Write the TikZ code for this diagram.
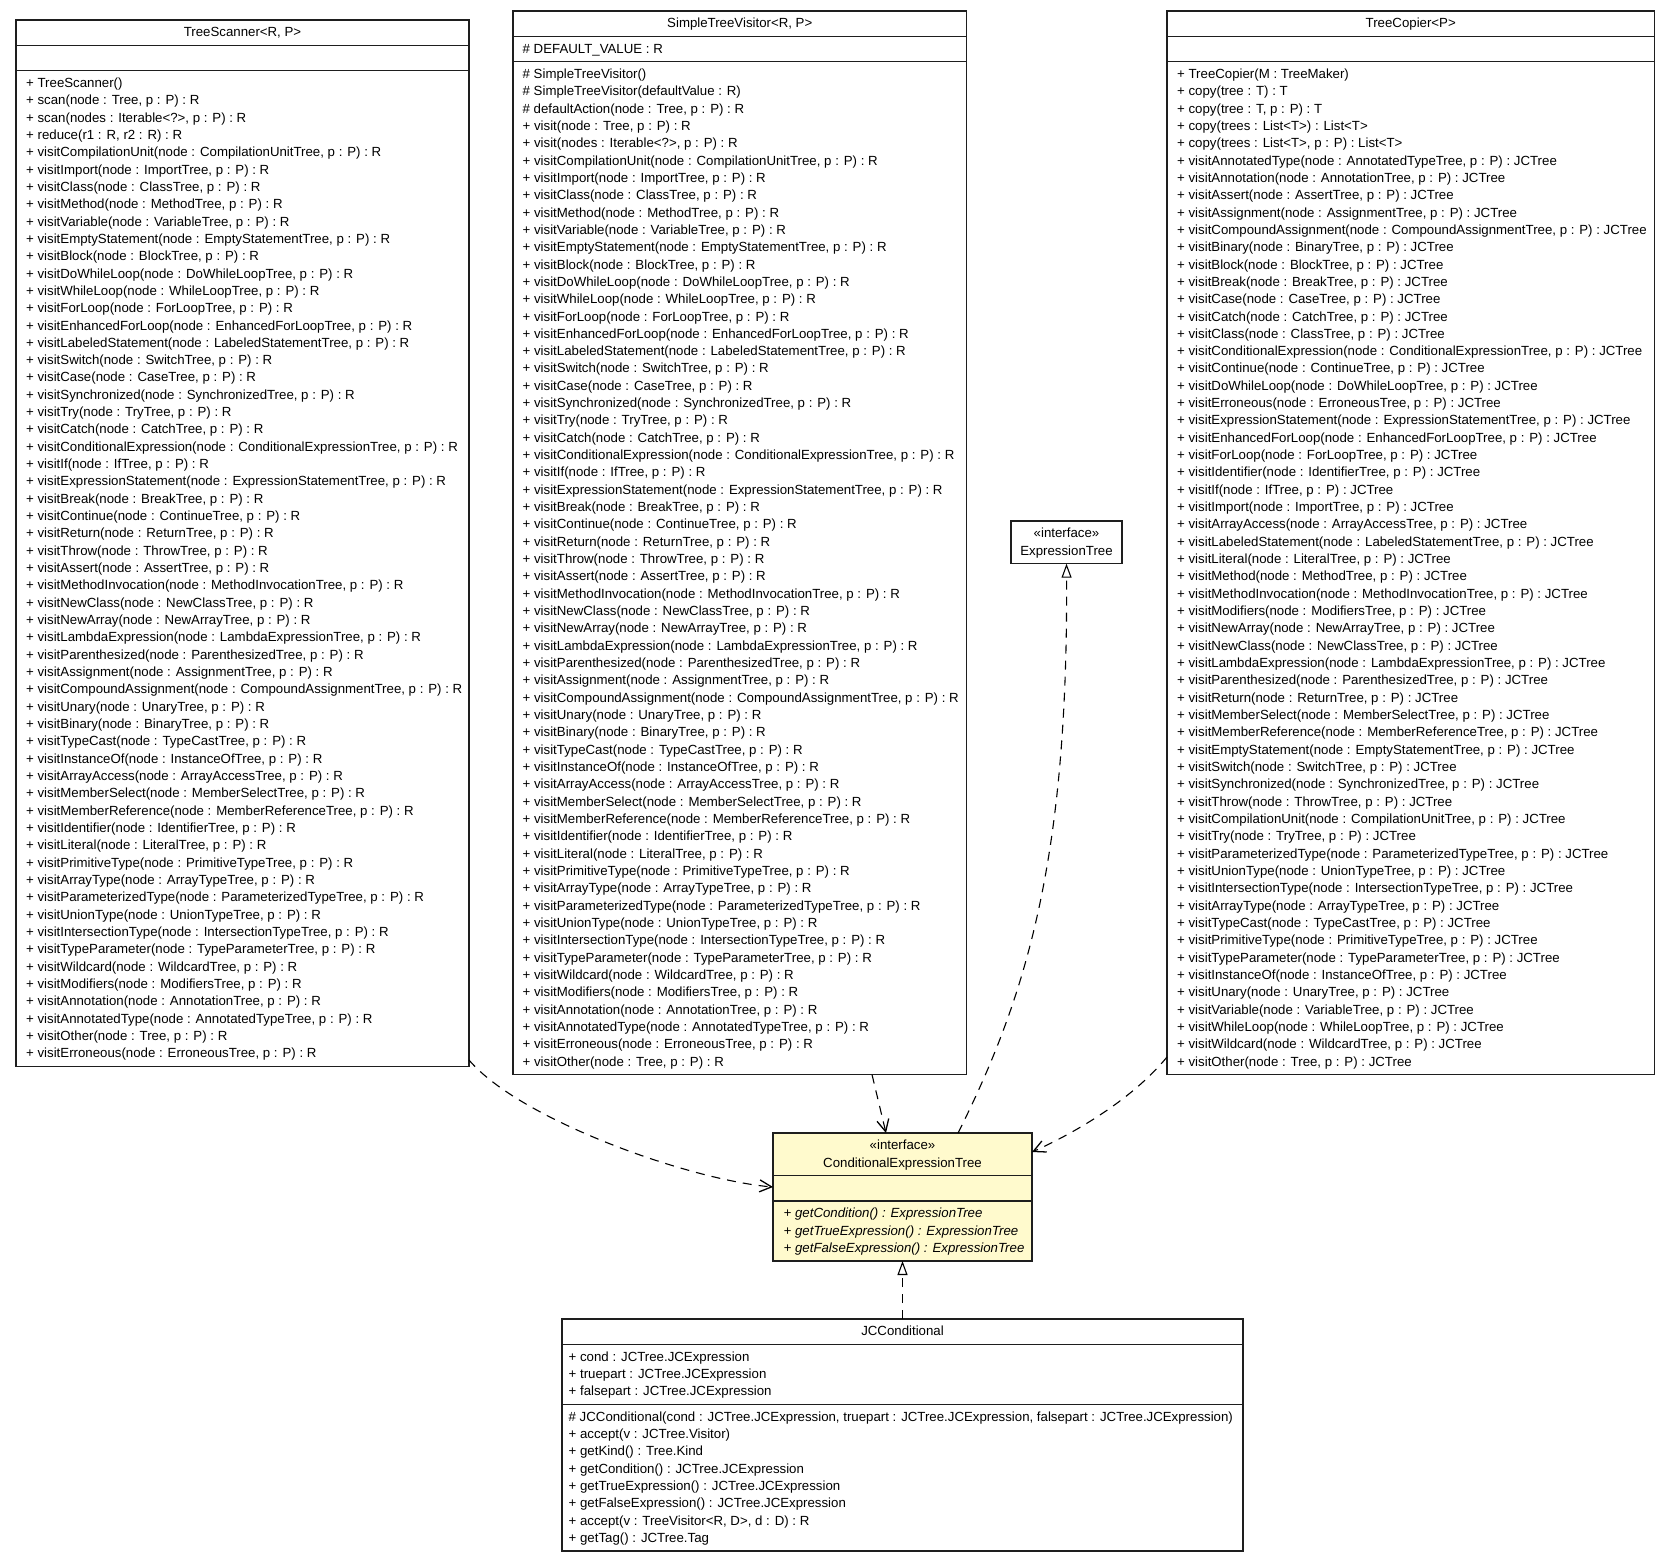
\documentclass[tikz,border=0pt]{standalone}
\usepackage{fontspec}
\usetikzlibrary{arrows.meta,calc}
\newfontfamily\umlsans{Liberation Sans}
\newcommand{\umlfont}{\umlsans\fontsize{13.25pt}{17.33pt}\selectfont\lineskip=0pt\lineskiplimit=-20pt\relax}
\newcommand{\umlitfont}{\umlfont\itshape}
\newcommand{\rw}{\rule[-4.83pt]{0pt}{17.33pt}}
\definecolor{lemon}{RGB}{255,250,205}
\definecolor{edgecol}{RGB}{30,30,30}
\tikzset{
  classbox/.style={draw=edgecol, line width=1.3pt, fill=white, inner sep=0pt, outer sep=0pt, anchor=north west},
  sepline/.style={draw=edgecol, line width=1.3pt},
  titletext/.style={inner sep=0pt, anchor=north, align=center, font=\umlfont},
  membertext/.style={inner sep=0pt, anchor=north west, align=left, font=\umlfont},
  italictext/.style={inner sep=0pt, anchor=north west, align=left, font=\umlitfont},
  deparrow/.style={draw=black, line width=1.1pt, dash pattern=on 9pt off 7pt, -{Straight Barb[length=12pt,width=12pt,line width=1.3pt]}},
  realarrow/.style={draw=black, line width=1.1pt, dash pattern=on 9pt off 7pt, -{Triangle[open,length=14pt,width=10pt,line width=1.1pt]}},
}
\begin{document}
\begin{tikzpicture}[x=1pt,y=-1pt]
\fill[white] (0,0) rectangle (1667,1563);
\useasboundingbox (0,0) rectangle (1667,1563);

% ---------------- TreeScanner
\node[classbox, minimum width=453pt, minimum height=1046.5pt] (ts) at (16,20) {};
\draw[sepline] ($(ts.north west)+(0,25.33)$) -- ($(ts.north east)+(0,25.33)$);
\draw[sepline] ($(ts.north west)+(0,50.67)$) -- ($(ts.north east)+(0,50.67)$);
\node[titletext] (tst) at ($(ts.north)+(0,4)$) {\rw TreeScanner<R, P>};
\node[membertext] (tsm) at ($(ts.north west)+(10,54.67)$) {%
\rw + TreeScanner()\\
\rw + scan(node : Tree, p : P) : R\\
\rw + scan(nodes : Iterable<?>, p : P) : R\\
\rw + reduce(r1 : R, r2 : R) : R\\
\rw + visitCompilationUnit(node : CompilationUnitTree, p : P) : R\\
\rw + visitImport(node : ImportTree, p : P) : R\\
\rw + visitClass(node : ClassTree, p : P) : R\\
\rw + visitMethod(node : MethodTree, p : P) : R\\
\rw + visitVariable(node : VariableTree, p : P) : R\\
\rw + visitEmptyStatement(node : EmptyStatementTree, p : P) : R\\
\rw + visitBlock(node : BlockTree, p : P) : R\\
\rw + visitDoWhileLoop(node : DoWhileLoopTree, p : P) : R\\
\rw + visitWhileLoop(node : WhileLoopTree, p : P) : R\\
\rw + visitForLoop(node : ForLoopTree, p : P) : R\\
\rw + visitEnhancedForLoop(node : EnhancedForLoopTree, p : P) : R\\
\rw + visitLabeledStatement(node : LabeledStatementTree, p : P) : R\\
\rw + visitSwitch(node : SwitchTree, p : P) : R\\
\rw + visitCase(node : CaseTree, p : P) : R\\
\rw + visitSynchronized(node : SynchronizedTree, p : P) : R\\
\rw + visitTry(node : TryTree, p : P) : R\\
\rw + visitCatch(node : CatchTree, p : P) : R\\
\rw + visitConditionalExpression(node : ConditionalExpressionTree, p : P) : R\\
\rw + visitIf(node : IfTree, p : P) : R\\
\rw + visitExpressionStatement(node : ExpressionStatementTree, p : P) : R\\
\rw + visitBreak(node : BreakTree, p : P) : R\\
\rw + visitContinue(node : ContinueTree, p : P) : R\\
\rw + visitReturn(node : ReturnTree, p : P) : R\\
\rw + visitThrow(node : ThrowTree, p : P) : R\\
\rw + visitAssert(node : AssertTree, p : P) : R\\
\rw + visitMethodInvocation(node : MethodInvocationTree, p : P) : R\\
\rw + visitNewClass(node : NewClassTree, p : P) : R\\
\rw + visitNewArray(node : NewArrayTree, p : P) : R\\
\rw + visitLambdaExpression(node : LambdaExpressionTree, p : P) : R\\
\rw + visitParenthesized(node : ParenthesizedTree, p : P) : R\\
\rw + visitAssignment(node : AssignmentTree, p : P) : R\\
\rw + visitCompoundAssignment(node : CompoundAssignmentTree, p : P) : R\\
\rw + visitUnary(node : UnaryTree, p : P) : R\\
\rw + visitBinary(node : BinaryTree, p : P) : R\\
\rw + visitTypeCast(node : TypeCastTree, p : P) : R\\
\rw + visitInstanceOf(node : InstanceOfTree, p : P) : R\\
\rw + visitArrayAccess(node : ArrayAccessTree, p : P) : R\\
\rw + visitMemberSelect(node : MemberSelectTree, p : P) : R\\
\rw + visitMemberReference(node : MemberReferenceTree, p : P) : R\\
\rw + visitIdentifier(node : IdentifierTree, p : P) : R\\
\rw + visitLiteral(node : LiteralTree, p : P) : R\\
\rw + visitPrimitiveType(node : PrimitiveTypeTree, p : P) : R\\
\rw + visitArrayType(node : ArrayTypeTree, p : P) : R\\
\rw + visitParameterizedType(node : ParameterizedTypeTree, p : P) : R\\
\rw + visitUnionType(node : UnionTypeTree, p : P) : R\\
\rw + visitIntersectionType(node : IntersectionTypeTree, p : P) : R\\
\rw + visitTypeParameter(node : TypeParameterTree, p : P) : R\\
\rw + visitWildcard(node : WildcardTree, p : P) : R\\
\rw + visitModifiers(node : ModifiersTree, p : P) : R\\
\rw + visitAnnotation(node : AnnotationTree, p : P) : R\\
\rw + visitAnnotatedType(node : AnnotatedTypeTree, p : P) : R\\
\rw + visitOther(node : Tree, p : P) : R\\
\rw + visitErroneous(node : ErroneousTree, p : P) : R};

% ---------------- SimpleTreeVisitor
\node[classbox, minimum width=453.5pt, minimum height=1063.8pt] (stv) at (513,11) {};
\draw[sepline] ($(stv.north west)+(0,25.33)$) -- ($(stv.north east)+(0,25.33)$);
\draw[sepline] ($(stv.north west)+(0,50.67)$) -- ($(stv.north east)+(0,50.67)$);
\node[titletext] (stvt) at ($(stv.north)+(0,4)$) {\rw SimpleTreeVisitor<R, P>};
\node[membertext] (stva) at ($(stv.north west)+(9.5,29.33)$) {\rw \# DEFAULT\_VALUE : R};
\node[membertext] (stvm) at ($(stv.north west)+(9.5,54.67)$) {%
\rw \# SimpleTreeVisitor()\\
\rw \# SimpleTreeVisitor(defaultValue : R)\\
\rw \# defaultAction(node : Tree, p : P) : R\\
\rw + visit(node : Tree, p : P) : R\\
\rw + visit(nodes : Iterable<?>, p : P) : R\\
\rw + visitCompilationUnit(node : CompilationUnitTree, p : P) : R\\
\rw + visitImport(node : ImportTree, p : P) : R\\
\rw + visitClass(node : ClassTree, p : P) : R\\
\rw + visitMethod(node : MethodTree, p : P) : R\\
\rw + visitVariable(node : VariableTree, p : P) : R\\
\rw + visitEmptyStatement(node : EmptyStatementTree, p : P) : R\\
\rw + visitBlock(node : BlockTree, p : P) : R\\
\rw + visitDoWhileLoop(node : DoWhileLoopTree, p : P) : R\\
\rw + visitWhileLoop(node : WhileLoopTree, p : P) : R\\
\rw + visitForLoop(node : ForLoopTree, p : P) : R\\
\rw + visitEnhancedForLoop(node : EnhancedForLoopTree, p : P) : R\\
\rw + visitLabeledStatement(node : LabeledStatementTree, p : P) : R\\
\rw + visitSwitch(node : SwitchTree, p : P) : R\\
\rw + visitCase(node : CaseTree, p : P) : R\\
\rw + visitSynchronized(node : SynchronizedTree, p : P) : R\\
\rw + visitTry(node : TryTree, p : P) : R\\
\rw + visitCatch(node : CatchTree, p : P) : R\\
\rw + visitConditionalExpression(node : ConditionalExpressionTree, p : P) : R\\
\rw + visitIf(node : IfTree, p : P) : R\\
\rw + visitExpressionStatement(node : ExpressionStatementTree, p : P) : R\\
\rw + visitBreak(node : BreakTree, p : P) : R\\
\rw + visitContinue(node : ContinueTree, p : P) : R\\
\rw + visitReturn(node : ReturnTree, p : P) : R\\
\rw + visitThrow(node : ThrowTree, p : P) : R\\
\rw + visitAssert(node : AssertTree, p : P) : R\\
\rw + visitMethodInvocation(node : MethodInvocationTree, p : P) : R\\
\rw + visitNewClass(node : NewClassTree, p : P) : R\\
\rw + visitNewArray(node : NewArrayTree, p : P) : R\\
\rw + visitLambdaExpression(node : LambdaExpressionTree, p : P) : R\\
\rw + visitParenthesized(node : ParenthesizedTree, p : P) : R\\
\rw + visitAssignment(node : AssignmentTree, p : P) : R\\
\rw + visitCompoundAssignment(node : CompoundAssignmentTree, p : P) : R\\
\rw + visitUnary(node : UnaryTree, p : P) : R\\
\rw + visitBinary(node : BinaryTree, p : P) : R\\
\rw + visitTypeCast(node : TypeCastTree, p : P) : R\\
\rw + visitInstanceOf(node : InstanceOfTree, p : P) : R\\
\rw + visitArrayAccess(node : ArrayAccessTree, p : P) : R\\
\rw + visitMemberSelect(node : MemberSelectTree, p : P) : R\\
\rw + visitMemberReference(node : MemberReferenceTree, p : P) : R\\
\rw + visitIdentifier(node : IdentifierTree, p : P) : R\\
\rw + visitLiteral(node : LiteralTree, p : P) : R\\
\rw + visitPrimitiveType(node : PrimitiveTypeTree, p : P) : R\\
\rw + visitArrayType(node : ArrayTypeTree, p : P) : R\\
\rw + visitParameterizedType(node : ParameterizedTypeTree, p : P) : R\\
\rw + visitUnionType(node : UnionTypeTree, p : P) : R\\
\rw + visitIntersectionType(node : IntersectionTypeTree, p : P) : R\\
\rw + visitTypeParameter(node : TypeParameterTree, p : P) : R\\
\rw + visitWildcard(node : WildcardTree, p : P) : R\\
\rw + visitModifiers(node : ModifiersTree, p : P) : R\\
\rw + visitAnnotation(node : AnnotationTree, p : P) : R\\
\rw + visitAnnotatedType(node : AnnotatedTypeTree, p : P) : R\\
\rw + visitErroneous(node : ErroneousTree, p : P) : R\\
\rw + visitOther(node : Tree, p : P) : R};

% ---------------- TreeCopier
\node[classbox, minimum width=487.5pt, minimum height=1063.8pt] (tc) at (1167,11) {};
\draw[sepline] ($(tc.north west)+(0,25.33)$) -- ($(tc.north east)+(0,25.33)$);
\draw[sepline] ($(tc.north west)+(0,50.67)$) -- ($(tc.north east)+(0,50.67)$);
\node[titletext] (tct) at ($(tc.north)+(0,4)$) {\rw TreeCopier<P>};
\node[membertext] (tcm) at ($(tc.north west)+(10,54.67)$) {%
\rw + TreeCopier(M : TreeMaker)\\
\rw + copy(tree : T) : T\\
\rw + copy(tree : T, p : P) : T\\
\rw + copy(trees : List<T>) : List<T>\\
\rw + copy(trees : List<T>, p : P) : List<T>\\
\rw + visitAnnotatedType(node : AnnotatedTypeTree, p : P) : JCTree\\
\rw + visitAnnotation(node : AnnotationTree, p : P) : JCTree\\
\rw + visitAssert(node : AssertTree, p : P) : JCTree\\
\rw + visitAssignment(node : AssignmentTree, p : P) : JCTree\\
\rw + visitCompoundAssignment(node : CompoundAssignmentTree, p : P) : JCTree\\
\rw + visitBinary(node : BinaryTree, p : P) : JCTree\\
\rw + visitBlock(node : BlockTree, p : P) : JCTree\\
\rw + visitBreak(node : BreakTree, p : P) : JCTree\\
\rw + visitCase(node : CaseTree, p : P) : JCTree\\
\rw + visitCatch(node : CatchTree, p : P) : JCTree\\
\rw + visitClass(node : ClassTree, p : P) : JCTree\\
\rw + visitConditionalExpression(node : ConditionalExpressionTree, p : P) : JCTree\\
\rw + visitContinue(node : ContinueTree, p : P) : JCTree\\
\rw + visitDoWhileLoop(node : DoWhileLoopTree, p : P) : JCTree\\
\rw + visitErroneous(node : ErroneousTree, p : P) : JCTree\\
\rw + visitExpressionStatement(node : ExpressionStatementTree, p : P) : JCTree\\
\rw + visitEnhancedForLoop(node : EnhancedForLoopTree, p : P) : JCTree\\
\rw + visitForLoop(node : ForLoopTree, p : P) : JCTree\\
\rw + visitIdentifier(node : IdentifierTree, p : P) : JCTree\\
\rw + visitIf(node : IfTree, p : P) : JCTree\\
\rw + visitImport(node : ImportTree, p : P) : JCTree\\
\rw + visitArrayAccess(node : ArrayAccessTree, p : P) : JCTree\\
\rw + visitLabeledStatement(node : LabeledStatementTree, p : P) : JCTree\\
\rw + visitLiteral(node : LiteralTree, p : P) : JCTree\\
\rw + visitMethod(node : MethodTree, p : P) : JCTree\\
\rw + visitMethodInvocation(node : MethodInvocationTree, p : P) : JCTree\\
\rw + visitModifiers(node : ModifiersTree, p : P) : JCTree\\
\rw + visitNewArray(node : NewArrayTree, p : P) : JCTree\\
\rw + visitNewClass(node : NewClassTree, p : P) : JCTree\\
\rw + visitLambdaExpression(node : LambdaExpressionTree, p : P) : JCTree\\
\rw + visitParenthesized(node : ParenthesizedTree, p : P) : JCTree\\
\rw + visitReturn(node : ReturnTree, p : P) : JCTree\\
\rw + visitMemberSelect(node : MemberSelectTree, p : P) : JCTree\\
\rw + visitMemberReference(node : MemberReferenceTree, p : P) : JCTree\\
\rw + visitEmptyStatement(node : EmptyStatementTree, p : P) : JCTree\\
\rw + visitSwitch(node : SwitchTree, p : P) : JCTree\\
\rw + visitSynchronized(node : SynchronizedTree, p : P) : JCTree\\
\rw + visitThrow(node : ThrowTree, p : P) : JCTree\\
\rw + visitCompilationUnit(node : CompilationUnitTree, p : P) : JCTree\\
\rw + visitTry(node : TryTree, p : P) : JCTree\\
\rw + visitParameterizedType(node : ParameterizedTypeTree, p : P) : JCTree\\
\rw + visitUnionType(node : UnionTypeTree, p : P) : JCTree\\
\rw + visitIntersectionType(node : IntersectionTypeTree, p : P) : JCTree\\
\rw + visitArrayType(node : ArrayTypeTree, p : P) : JCTree\\
\rw + visitTypeCast(node : TypeCastTree, p : P) : JCTree\\
\rw + visitPrimitiveType(node : PrimitiveTypeTree, p : P) : JCTree\\
\rw + visitTypeParameter(node : TypeParameterTree, p : P) : JCTree\\
\rw + visitInstanceOf(node : InstanceOfTree, p : P) : JCTree\\
\rw + visitUnary(node : UnaryTree, p : P) : JCTree\\
\rw + visitVariable(node : VariableTree, p : P) : JCTree\\
\rw + visitWhileLoop(node : WhileLoopTree, p : P) : JCTree\\
\rw + visitWildcard(node : WildcardTree, p : P) : JCTree\\
\rw + visitOther(node : Tree, p : P) : JCTree};

% ---------------- ExpressionTree
\node[classbox, minimum width=111pt, minimum height=42.67pt] (et) at (1011,521) {};
\node[titletext] (ett) at ($(et.north)+(0,4)$) {\rw «interface»\\\rw ExpressionTree};

% ---------------- ConditionalExpressionTree
\node[classbox, fill=lemon, minimum width=259pt, minimum height=128pt] (cet) at (773,1133) {};
\draw[sepline] ($(cet.north west)+(0,42.67)$) -- ($(cet.north east)+(0,42.67)$);
\draw[sepline] ($(cet.north west)+(0,68)$) -- ($(cet.north east)+(0,68)$);
\node[titletext] (cett) at ($(cet.north)+(0,4)$) {\rw «interface»\\\rw ConditionalExpressionTree};
\node[italictext] (cetm) at ($(cet.north west)+(10.5,72)$) {%
\rw + getCondition() : ExpressionTree\\
\rw + getTrueExpression() : ExpressionTree\\
\rw + getFalseExpression() : ExpressionTree};

% ---------------- JCConditional
\node[classbox, minimum width=681pt, minimum height=232pt] (jcc) at (562,1319) {};
\draw[sepline] ($(jcc.north west)+(0,25.33)$) -- ($(jcc.north east)+(0,25.33)$);
\draw[sepline] ($(jcc.north west)+(0,85.33)$) -- ($(jcc.north east)+(0,85.33)$);
\node[titletext] (jcct) at ($(jcc.north)+(0,4)$) {\rw JCConditional};
\node[membertext] (jcca) at ($(jcc.north west)+(6.5,29.33)$) {%
\rw + cond : JCTree.JCExpression\\
\rw + truepart : JCTree.JCExpression\\
\rw + falsepart : JCTree.JCExpression};
\node[membertext] (jccm) at ($(jcc.north west)+(6.5,89.33)$) {%
\rw \# JCConditional(cond : JCTree.JCExpression, truepart : JCTree.JCExpression, falsepart : JCTree.JCExpression)\\
\rw + accept(v : JCTree.Visitor)\\
\rw + getKind() : Tree.Kind\\
\rw + getCondition() : JCTree.JCExpression\\
\rw + getTrueExpression() : JCTree.JCExpression\\
\rw + getFalseExpression() : JCTree.JCExpression\\
\rw + accept(v : TreeVisitor<R, D>, d : D) : R\\
\rw + getTag() : JCTree.Tag};

% ---------------- connectors
\draw[deparrow] ($(ts.south east)+(0,-6.5)$) .. controls (520,1120) and (690,1180) .. ($(cet.north west)+(0,54)$);
\draw[deparrow] ($(stv.south)+(132.3,0)$) -- ($(cet.north)+(-16.5,0)$);
\draw[deparrow] ($(tc.south west)+(0,-17.8)$) .. controls (1130,1102) and (1070,1135) .. ($(cet.north east)+(0,19)$);
\draw[realarrow] ($(cet.north)+(55.5,0)$) .. controls (1030,990) and (1068,850) .. (et.south);
\draw[realarrow] (jcc.north) -- (cet.south);
\end{tikzpicture}
\end{document}
